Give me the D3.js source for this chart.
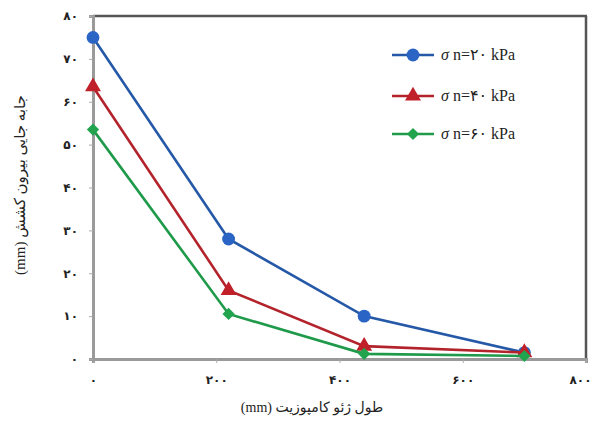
<!DOCTYPE html>
<html><head><meta charset="utf-8">
<script src="https://cdn.jsdelivr.net/npm/d3@7"></script>
<style>
body{margin:0;background:#fff;}
svg{display:block;font-family:"Liberation Serif","DejaVu Sans",serif;}
</style></head>
<body><svg id="c" width="591" height="421"></svg>
<script>
const lengths = [0, 220, 440, 700];
const sigma20 = [75, 28, 10, 1.5];
const sigma40 = [63.5, 16, 3, 1.5];
const sigma60 = [53.5, 10.5, 1.2, 0.7];
const seriesNames = ["n=۲۰ kPa", "n=۴۰ kPa", "n=۶۰ kPa"];
const xTicks = [0, 200, 400, 600, 800];
const yTicks = [0, 10, 20, 30, 40, 50, 60, 70, 80];
const xTitle = "طول ژئو کامپوزیت (mm)";
const yTitle = "جابه جایی بیرون کشش (mm)";

const fa = n => String(n).replace(/\d/g, d => "۰۱۲۳۴۵۶۷۸۹"[d]);
const svg = d3.select("#c");
const x = d3.scaleLinear().domain([0, 800]).range([93, 586]);
const y = d3.scaleLinear().domain([0, 80]).range([359, 16]);

// frame
svg.append("line").attr("x1",93).attr("x2",587).attr("y1",16).attr("y2",16).attr("stroke","#555").attr("stroke-width",2.5);
svg.append("line").attr("x1",586).attr("x2",586).attr("y1",16).attr("y2",359).attr("stroke","#555").attr("stroke-width",2.5);

const xa = svg.append("g").attr("transform","translate(0,359)")
  .call(d3.axisBottom(x).tickValues(xTicks).tickFormat(fa).tickSize(4).tickPadding(12));
const ya = svg.append("g").attr("transform","translate(93,0)")
  .call(d3.axisLeft(y).tickValues(yTicks).tickFormat(fa).tickSize(4).tickPadding(11));
[xa, ya].forEach(a => {
  a.select(".domain").attr("stroke","#9a9a9a").attr("stroke-width",3);
  a.selectAll(".tick line").attr("stroke","#aaa");
  a.selectAll("text").attr("fill","#222").style("font-size","12px").style("font-weight","bold").style("font-family","DejaVu Sans");
});
xa.selectAll(".tick text").filter(d => d === 800).attr("dx", -6);

const series = [
  {name: seriesNames[0], vals: sigma20, color:"#2559a8", mcolor:"#2a64c4", shape:d3.symbolCircle, size:130, rot:0},
  {name: seriesNames[1], vals: sigma40, color:"#b3232b", mcolor:"#c0202a", shape:d3.symbolTriangle, size:110, rot:0},
  {name: seriesNames[2], vals: sigma60, color:"#1f9a4a", mcolor:"#22a34e", shape:d3.symbolSquare, size:75, rot:45}
];
const line = d3.line().x(d=>x(d[0])).y(d=>y(d[1]));
series.forEach(s => {
  const pts = lengths.map((l,i)=>[l, s.vals[i]]);
  svg.append("path").datum(pts).attr("d", line).attr("fill","none").attr("stroke", s.color).attr("stroke-width",2.6);
  svg.selectAll(null).data(pts).enter().append("path")
    .attr("d", d3.symbol().type(s.shape).size(s.size))
    .attr("transform", d=>`translate(${x(d[0])},${y(d[1])}) rotate(${s.rot})`)
    .attr("fill", s.mcolor);
});

// legend
const legY = [55, 96, 134];
series.forEach((s,i) => {
  const g = svg.append("g").attr("transform", `translate(0,${legY[i]})`);
  g.append("line").attr("x1",392).attr("x2",434).attr("y1",0).attr("y2",0).attr("stroke",s.color).attr("stroke-width",2.6);
  g.append("path").attr("d", d3.symbol().type(s.shape).size(s.size)).attr("transform",`translate(413,0) rotate(${s.rot})`).attr("fill",s.mcolor);
  const t = g.append("text").attr("x",441).attr("y",5).style("font-size","16px").attr("fill","#222");
  t.append("tspan").style("font-style","italic").text("σ ");
  t.append("tspan").text(s.name);
});

svg.append("text").attr("x",312).attr("y",412).attr("text-anchor","middle")
  .style("direction","rtl").style("font-size","14px").attr("fill","#222").text(xTitle);
svg.append("text").attr("transform","translate(25,185) rotate(-90)").attr("text-anchor","middle")
  .style("direction","rtl").style("font-size","15px").attr("fill","#222").text(yTitle);
</script></body></html>
